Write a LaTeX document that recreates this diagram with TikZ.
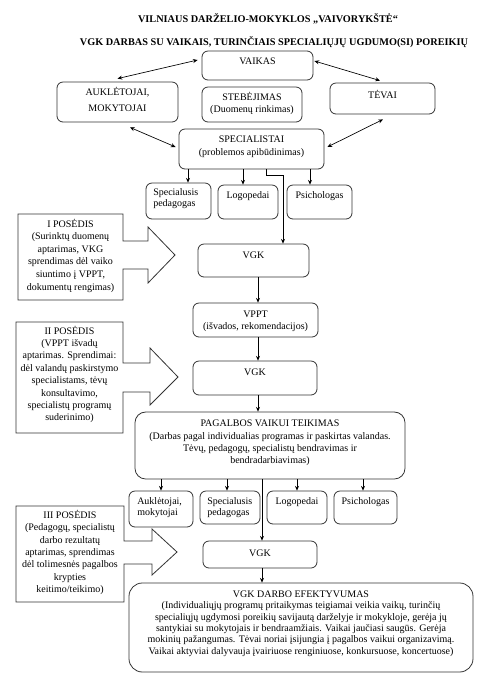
\documentclass[tikz,border=0pt]{standalone}
\usepackage{fontspec}
\setmainfont{Liberation Serif}
\usetikzlibrary{arrows.meta,fit,calc}
\begin{document}
\begin{tikzpicture}[x=0.75pt,y=-0.75pt,
  box/.style={draw=black!80, line width=0.6pt, rounded corners=4.5pt, inner sep=0pt},
  bigbox/.style={box, rounded corners=8pt},
  callout/.style={draw=black!80, line width=0.6pt, fill=white},
  txt/.style={align=center, inner sep=0pt, font=\fontsize{7.5}{9.3}\selectfont},
  capt/.style={align=center, inner sep=0pt, font=\fontsize{7.5}{10}\selectfont},
  ltxt/.style={align=left, anchor=west, inner sep=0pt, font=\fontsize{7.5}{8.4}\selectfont},
  ttl/.style={inner sep=0pt, font=\fontsize{7.7}{9}\selectfont\bfseries},
  arr/.style={-{Stealth[length=3.5pt,width=3pt]}, line width=0.5pt},
  dbl/.style={{Stealth[length=3.5pt,width=3pt]}-{Stealth[length=3.5pt,width=3pt]}, line width=0.5pt}
]
\useasboundingbox[fill=white] (0,0) rectangle (476,694);

% titles
\node[ttl] (title1) at (268,19) {VILNIAUS DARŽELIO-MOKYKLOS „VAIVORYKŠTĖ“};
\node[ttl] (title2) at (274,42) {VGK DARBAS SU VAIKAIS, TURINČIAIS SPECIALIŲJŲ UGDUMO(SI) POREIKIŲ};

% top boxes
\node[box, fit={(202,51) (313,80)}] (vaikas) {};
\node[capt] (vaikasT) at (257.5,61) {VAIKAS};
\node[box, fit={(57,82) (178,122)}] (aukl) {};
\node[capt] (auklT) at (117.5,99.5) {AUKLĖTOJAI,\\[1.5pt]MOKYTOJAI};
\node[box, fit={(202,87) (302,122)}] (steb) {};
\node[txt] (stebT) at (252,103.5) {STEBĖJIMAS\\(Duomenų rinkimas)};
\node[box, fit={(330,83) (435,114)}] (tevai) {};
\node[capt] (tevaiT) at (382.5,94) {TĖVAI};
\node[box, fit={(179,129) (324,169)}] (spec) {};
\node[capt] (specT) at (251.5,146.5) {SPECIALISTAI\\(problemos apibūdinimas)};

\draw[dbl] ($(vaikas.west)+(-4,-5.5)$) -- ($(aukl.north)+(0,-3)$);
\draw[dbl] ($(vaikas.east)+(1,-4.5)$) -- ($(tevai.north)+(-2.5,-2)$);
\draw[dbl] ($(aukl.south)+(12.5,5)$) -- ($(spec.west)+(-3,-2)$);
\draw[dbl] ($(tevai.south)+(0.5,5)$) -- ($(spec.east)+(3,-2)$);

% first row of specialists
\node[box, fit={(146,183) (211,219)}] (spA) {};
\node[ltxt] (spAT) at (153,198.5) {Specialusis\\pedagogas};
\node[box, fit={(218,185) (278,219)}] (logA) {};
\node[txt] (logAT) at (248,196) {Logopedai};
\node[box, fit={(287,185) (352,219)}] (psA) {};
\node[txt] (psAT) at (319.5,196) {Psichologas};

\coordinate (xa) at (188,0);
\coordinate (xb) at (243,0);
\coordinate (xc) at (310,0);
\draw[arr] (spec.south -| xa) -- (spA.north -| xa);
\draw[arr] (spec.south -| xb) -- (logA.north -| xb);
\draw[arr] (spec.south -| xc) -- (psA.north -| xc);

% VGK 1
\node[box, fit={(198,244) (309,277)}] (vgk1) {};
\node[capt] (vgk1T) at (253.5,255) {VGK};
\coordinate (k1) at (266,175);
\coordinate (k2) at (283,175);
\draw[arr] (spec.south -| k1) -- (k1) -- (k2) -- (vgk1.north -| k2);

% VPPT
\node[box, fit={(193,303) (318,337)}] (vppt) {};
\node[txt] (vpptT) at (255.5,321) {VPPT\\(išvados, rekomendacijos)};

% VGK 2
\node[box, fit={(193,361) (317,395)}] (vgk2) {};
\node[capt] (vgk2T) at (255,372) {VGK};

\coordinate (xm) at (258,0);
\draw[arr] (vgk1.south -| xm) -- (vppt.north -| xm);
\draw[arr] (vppt.south -| xm) -- (vgk2.north -| xm);

% PAGALBOS
\node[bigbox, fit={(135,412) (405,479)}] (pag) {};
\node[txt] (pagT) at (270,443) {PAGALBOS VAIKUI TEIKIMAS\\(Darbas pagal individualias programas ir paskirtas valandas.\\Tėvų, pedagogų, specialistų bendravimas ir\\bendradarbiavimas)};
\draw[arr] (vgk2.south -| xm) -- (pag.north -| xm);

% second row
\node[box, fit={(129,491) (193,527)}] (aukB) {};
\node[ltxt] (aukBT) at (137,508) {Auklėtojai,\\mokytojai};
\node[box, fit={(200,491) (260,524)}] (spB) {};
\node[ltxt] (spBT) at (207,507.5) {Specialusis\\pedagogas};
\node[box, fit={(267,491) (327,524)}] (logB) {};
\node[txt] (logBT) at (297,502) {Logopedai};
\node[box, fit={(334,491) (397,524)}] (psB) {};
\node[txt] (psBT) at (365.5,502) {Psichologas};

\coordinate (xd) at (161,0);
\coordinate (xe) at (227,0);
\coordinate (xf) at (297,0);
\coordinate (xg) at (363,0);
\coordinate (xh) at (262,0);
\draw[arr] (pag.south -| xd) -- (aukB.north -| xd);
\draw[arr] (pag.south -| xe) -- (spB.north -| xe);
\draw[arr] (pag.south -| xf) -- (logB.north -| xf);
\draw[arr] (pag.south -| xg) -- (psB.north -| xg);

% VGK 3
\node[box, fit={(203,541) (317,568)}] (vgk3) {};
\node[capt] (vgk3T) at (260,553) {VGK};
\draw[arr] (pag.south -| xh) -- (vgk3.north -| xh);

% final box
\node[bigbox, rounded corners=10pt, fit={(129,583) (473,672)}] (eff) {};
\node[align=center, inner sep=0pt, font=\fontsize{7.5}{8.6}\selectfont] (effT) at (301,623.5) {VGK DARBO EFEKTYVUMAS\\(Individualiųjų programų pritaikymas teigiamai veikia vaikų, turinčių\\specialiųjų ugdymosi poreikių savijautą darželyje ir mokykloje, gerėja jų\\santykiai su mokytojais ir bendraamžiais. Vaikai jaučiasi saugūs. Gerėja\\mokinių pažangumas. Tėvai noriai įsijungia į pagalbos vaikui organizavimą.\\Vaikai aktyviai dalyvauja įvairiuose renginiuose, konkursuose, koncertuose)};
\draw[arr] (vgk3.south -| xh) -- (eff.north -| xh);

% callouts
\draw[callout] (18,214) -- (123,214) -- (123,241) -- (148,241) -- (148,227) -- (175,255)
  -- (148,283) -- (148,269) -- (123,269) -- (123,300) -- (18,300) -- cycle;
\node[txt, font=\fontsize{7.5}{9.45}\selectfont] (pos1) at (70.5,255.5) {I POSĖDIS\\(Surinktų duomenų\\aptarimas, VKG\\sprendimas dėl vaiko\\siuntimo į VPPT,\\dokumentų rengimas)};

\draw[callout] (16,322) -- (123,322) -- (123,363) -- (150,363) -- (150,348) -- (178,377)
  -- (150,405) -- (150,392) -- (123,392) -- (123,433) -- (16,433) -- cycle;
\node[txt] (pos2) at (69.5,374.5) {II POSĖDIS\\(VPPT išvadų\\aptarimas. Sprendimai:\\dėl valandų paskirstymo\\specialistams, tėvų\\konsultavimo,\\specialistų programų\\suderinimo)};

\draw[callout] (16,506) -- (124,506) -- (124,541) -- (152,541) -- (152,529) -- (177,552)
  -- (152,575) -- (152,564) -- (124,564) -- (124,602) -- (16,602) -- cycle;
\node[txt] (pos3) at (70,552.5) {III POSĖDIS\\(Pedagogų, specialistų\\darbo rezultatų\\aptarimas, sprendimas\\dėl tolimesnės pagalbos\\krypties\\keitimo/teikimo)};

\end{tikzpicture}
\end{document}
